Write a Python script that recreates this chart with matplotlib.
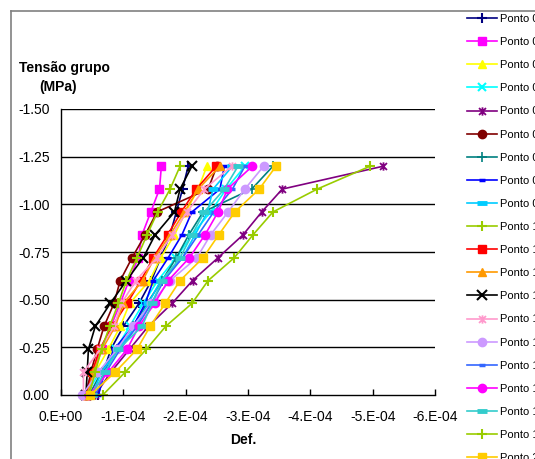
import matplotlib
matplotlib.use("Agg")
import matplotlib.pyplot as plt
from matplotlib.path import Path
from matplotlib.lines import Line2D
from matplotlib.ticker import FormatStrFormatter

plt.rcParams['font.family'] = ['Liberation Sans', 'DejaVu Sans']

# stress levels (MPa), same for every point
stress = [0.0, -0.12, -0.24, -0.36, -0.48, -0.60, -0.72, -0.84, -0.96, -1.08, -1.20]

# strain values in units of 1e-4 (sign applied below)
p01 = [0.60, 0.68, 0.80, 1.00, 1.25, 1.45, 1.60, 1.75, 1.85, 1.95, 2.04]
p02 = [0.38, 0.50, 0.65, 0.80, 0.95, 1.09, 1.24, 1.30, 1.44, 1.58, 1.61]
p03 = [0.42, 0.55, 0.76, 0.95, 1.10, 1.42, 1.60, 1.82, 2.00, 2.20, 2.34]
p04 = [0.40, 0.62, 0.88, 1.10, 1.32, 1.55, 1.85, 2.10, 2.40, 2.65, 2.95]
p05 = [0.55, 0.80, 1.10, 1.40, 1.78, 2.11, 2.52, 2.92, 3.22, 3.55, 5.17]
p06 = [0.40, 0.48, 0.58, 0.69, 0.85, 0.95, 1.14, 1.35, 1.54, 2.36, 2.50]
p07 = [0.45, 0.65, 0.90, 1.15, 1.38, 1.62, 1.85, 2.05, 2.28, 3.06, 3.40]
p08 = [0.60, 0.70, 0.85, 1.16, 1.35, 1.48, 1.72, 1.94, 2.10, 2.55, 2.62]
p09 = [0.50, 0.65, 0.92, 1.20, 1.40, 1.60, 1.95, 2.15, 2.35, 2.44, 2.75]
p10 = [0.67, 1.03, 1.37, 1.68, 2.10, 2.36, 2.78, 3.08, 3.40, 4.11, 4.96]
p11 = [0.42, 0.50, 0.62, 0.82, 1.06, 1.28, 1.48, 1.71, 1.93, 2.17, 2.49]
p12 = [0.42, 0.52, 0.66, 0.87, 1.00, 1.31, 1.50, 1.75, 1.98, 2.20, 2.55]
p13 = [0.40, 0.42, 0.44, 0.55, 0.79, 1.05, 1.32, 1.51, 1.82, 1.91, 2.10]
p14 = [0.36, 0.36, 0.63, 0.85, 0.97, 1.20, 1.54, 1.78, 2.02, 2.30, 2.74]
p15 = [0.34, 0.60, 0.90, 1.15, 1.45, 1.75, 2.18, 2.40, 2.68, 2.95, 3.25]
p16 = [0.55, 0.72, 0.95, 1.22, 1.45, 1.65, 1.95, 2.20, 2.45, 2.75, 2.95]
p17 = [0.45, 0.76, 1.06, 1.25, 1.50, 1.72, 2.06, 2.31, 2.52, 2.67, 3.07]
p18 = [0.50, 0.70, 0.92, 1.30, 1.46, 1.62, 1.91, 2.10, 2.30, 2.62, 2.84]
p19 = [0.45, 0.55, 0.65, 0.78, 0.92, 1.05, 1.22, 1.38, 1.55, 1.75, 1.91]
p20 = [0.47, 0.87, 1.22, 1.43, 1.67, 1.91, 2.28, 2.53, 2.79, 3.18, 3.45]

series = [p01, p02, p03, p04, p05, p06, p07, p08, p09, p10,
          p11, p12, p13, p14, p15, p16, p17, p18, p19, p20]
labels = ["Ponto %02d" % (i + 1) for i in range(20)]

x_ticks = [0, -1e-4, -2e-4, -3e-4, -4e-4, -5e-4, -6e-4]
x_ticklabels = ["0.E+00", "-1.E-04", "-2.E-04", "-3.E-04", "-4.E-04", "-5.E-04", "-6.E-04"]
y_ticks = [0.0, -0.25, -0.50, -0.75, -1.00, -1.25, -1.50]

# marker styles
star = Path([(-1, -1), (1, 1), (-1, 1), (1, -1), (0, -1.2), (0, 1.2)],
            [Path.MOVETO, Path.LINETO, Path.MOVETO, Path.LINETO, Path.MOVETO, Path.LINETO])
styles = [
    ('#000080', '+', 7, 1.5),
    ('#FF00FF', 's', 5.5, 1),
    ('#FFFF00', '^', 6, 1),
    ('#00FFFF', 'x', 6, 1.5),
    ('#800080', star, 6, 1.3),
    ('#800000', 'o', 6, 1),
    ('#008080', '+', 7, 1.2),
    ('#0000FF', '_', 5, 2.5),
    ('#00CCFF', '_', 7, 3.5),
    ('#99CC00', '+', 7, 1.5),
    ('#FF0000', 's', 5.5, 1),
    ('#FF9900', '^', 6, 1),
    ('#000000', 'x', 7, 1.5),
    ('#FF99CC', star, 6, 1.3),
    ('#CC99FF', 'o', 6, 1),
    ('#3366FF', '_', 5, 2.5),
    ('#FF00FF', 'o', 6, 1),
    ('#33CCCC', '_', 7, 3.5),
    ('#99CC00', '+', 7, 1.5),
    ('#FFCC00', 's', 5.5, 1),
]

W, H = 535, 459
fig = plt.figure(figsize=(W / 100, H / 100), dpi=100)
ax = fig.add_axes([61 / W, 1 - 395 / H, (435 - 61) / W, (395 - 109) / H])

for vals, lab, (c, m, ms, mew) in zip(series, labels, styles):
    ax.plot([-v * 1e-4 for v in vals], stress, color=c, lw=1.2, marker=m,
            markersize=ms, markeredgewidth=mew, markerfacecolor=c,
            markeredgecolor=c, label=lab, clip_on=False)

ax.set_xlim(0, -6e-4)
ax.set_ylim(0, -1.5)
ax.set_xticks(x_ticks)
ax.set_xticklabels(x_ticklabels)
ax.set_yticks(y_ticks)
ax.yaxis.set_major_formatter(FormatStrFormatter('%.2f'))
ax.tick_params(axis='x', direction='in', length=4, width=1, pad=11, labelsize=10)
ax.tick_params(axis='y', direction='in', length=0, pad=8, labelsize=10)
for yv in y_ticks[1:]:
    ax.axhline(yv, color='black', lw=1, zorder=0)
ax.spines['right'].set_visible(False)
ax.spines['top'].set_visible(False)
ax.spines['left'].set_linewidth(1)
ax.spines['bottom'].set_linewidth(1)

fig.text(64 / W, 1 - 68 / H, "Tensão grupo", ha='center', va='center',
         fontsize=10, fontweight='bold')
fig.text(58 / W, 1 - 87 / H, "(MPa)", ha='center', va='center',
         fontsize=10, fontweight='bold')
fig.text(243 / W, 1 - 440 / H, "Def.", ha='center', va='center',
         fontsize=10, fontweight='bold')

# chart border (cropped)
fig.add_artist(Line2D([11 / W, 1.0], [1 - 11 / H, 1 - 11 / H], color='#808080', lw=1.2))
fig.add_artist(Line2D([11 / W, 11 / W], [0.0, 1 - 11 / H], color='#808080', lw=1.2))

fig.legend(loc='upper left', bbox_to_anchor=(467 / W, 1 - 14 / H), frameon=False,
           fontsize=8, handlelength=2.7, handletextpad=0.3, labelspacing=1.18,
           borderpad=0, borderaxespad=0)

fig.savefig("out.png", dpi=100)
